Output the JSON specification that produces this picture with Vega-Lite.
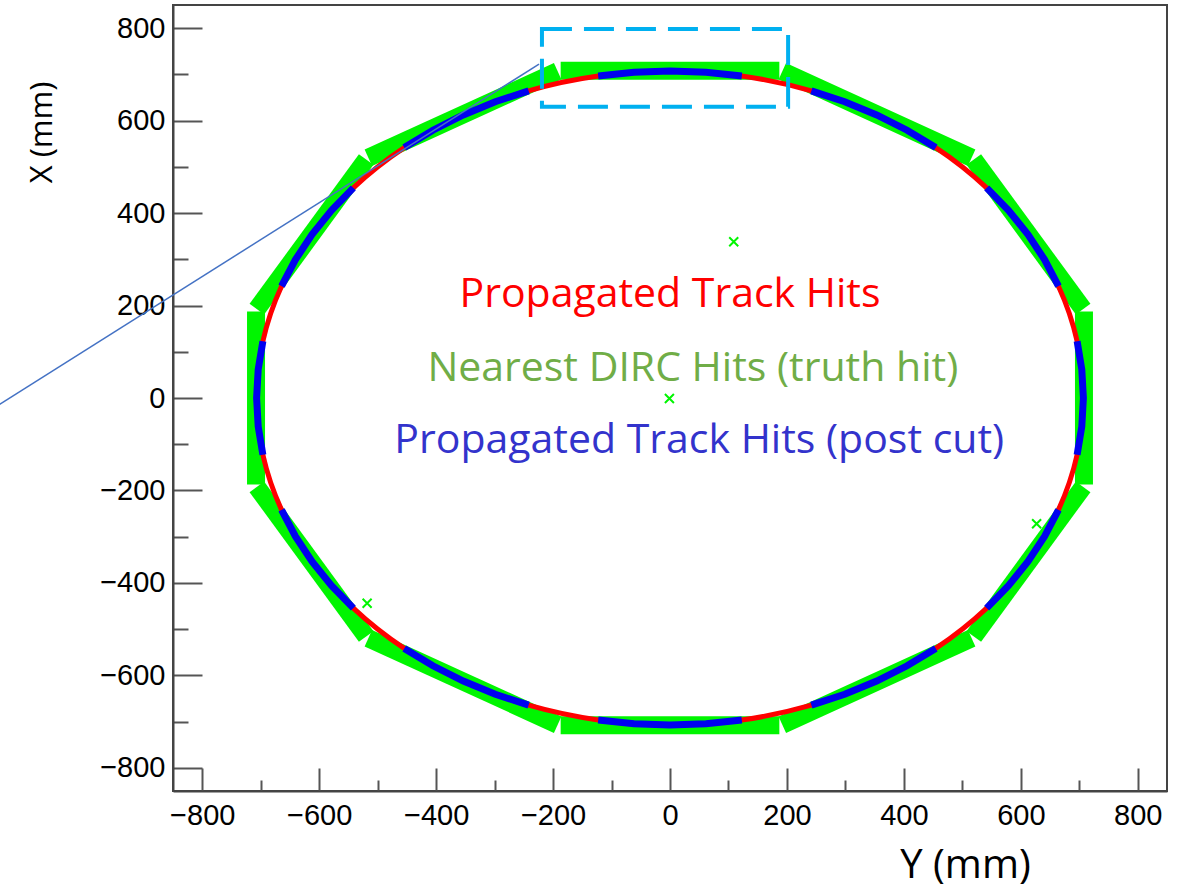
{
  "$schema": "https://vega.github.io/schema/vega-lite/v6.json",
  "width": 994,
  "height": 786,
  "autosize": "none",
  "padding": {"left": 173, "top": 5, "right": 12, "bottom": 103},
  "background": "white",
  "config": {
    "view": {"stroke": "#444", "strokeWidth": 2},
    "axis": {"grid": false, "labelFont": "Liberation Sans", "labelFontSize": 29, "labelColor": "black", "tickColor": "#555", "tickWidth": 2, "domainColor": "#444", "domainWidth": 2, "titleFont": "Open Sans", "titleFontWeight": "normal", "titleColor": "black", "labelFlush": false, "labelOverlap": false}
  },
  "datasets": {
    "green": [
      {"facet": 0, "end": 0, "ymm": 708, "xmm": -187}, {"facet": 0, "end": 1, "ymm": 708, "xmm": 187},
      {"facet": 30, "end": 0, "ymm": 706.6, "xmm": 192.1}, {"facet": 30, "end": 1, "ymm": 519.6, "xmm": 515.9},
      {"facet": 60, "end": 0, "ymm": 515.9, "xmm": 519.6}, {"facet": 60, "end": 1, "ymm": 192.1, "xmm": 706.6},
      {"facet": 90, "end": 0, "ymm": 187, "xmm": 708}, {"facet": 90, "end": 1, "ymm": -187, "xmm": 708},
      {"facet": 120, "end": 0, "ymm": -192.1, "xmm": 706.6}, {"facet": 120, "end": 1, "ymm": -515.9, "xmm": 519.6},
      {"facet": 150, "end": 0, "ymm": -519.6, "xmm": 515.9}, {"facet": 150, "end": 1, "ymm": -706.6, "xmm": 192.1},
      {"facet": 180, "end": 0, "ymm": -708, "xmm": 187}, {"facet": 180, "end": 1, "ymm": -708, "xmm": -187},
      {"facet": 210, "end": 0, "ymm": -706.6, "xmm": -192.1}, {"facet": 210, "end": 1, "ymm": -519.6, "xmm": -515.9},
      {"facet": 240, "end": 0, "ymm": -515.9, "xmm": -519.6}, {"facet": 240, "end": 1, "ymm": -192.1, "xmm": -706.6},
      {"facet": 270, "end": 0, "ymm": -187, "xmm": -708}, {"facet": 270, "end": 1, "ymm": 187, "xmm": -708},
      {"facet": 300, "end": 0, "ymm": 192.1, "xmm": -706.6}, {"facet": 300, "end": 1, "ymm": 515.9, "xmm": -519.6},
      {"facet": 330, "end": 0, "ymm": 519.6, "xmm": -515.9}, {"facet": 330, "end": 1, "ymm": 706.6, "xmm": -192.1}
    ],
    "circle": [
      {"a": 0, "ymm": 707, "xmm": 0}, {"a": 10, "ymm": 696.3, "xmm": 122.8}, {"a": 20, "ymm": 664.4, "xmm": 241.8},
      {"a": 30, "ymm": 612.3, "xmm": 353.5}, {"a": 40, "ymm": 541.6, "xmm": 454.5}, {"a": 50, "ymm": 454.5, "xmm": 541.6},
      {"a": 60, "ymm": 353.5, "xmm": 612.3}, {"a": 70, "ymm": 241.8, "xmm": 664.4}, {"a": 80, "ymm": 122.8, "xmm": 696.3},
      {"a": 90, "ymm": 0, "xmm": 707}, {"a": 100, "ymm": -122.8, "xmm": 696.3}, {"a": 110, "ymm": -241.8, "xmm": 664.4},
      {"a": 120, "ymm": -353.5, "xmm": 612.3}, {"a": 130, "ymm": -454.5, "xmm": 541.6}, {"a": 140, "ymm": -541.6, "xmm": 454.5},
      {"a": 150, "ymm": -612.3, "xmm": 353.5}, {"a": 160, "ymm": -664.4, "xmm": 241.8}, {"a": 170, "ymm": -696.3, "xmm": 122.8},
      {"a": 180, "ymm": -707, "xmm": 0}, {"a": 190, "ymm": -696.3, "xmm": -122.8}, {"a": 200, "ymm": -664.4, "xmm": -241.8},
      {"a": 210, "ymm": -612.3, "xmm": -353.5}, {"a": 220, "ymm": -541.6, "xmm": -454.5}, {"a": 230, "ymm": -454.5, "xmm": -541.6},
      {"a": 240, "ymm": -353.5, "xmm": -612.3}, {"a": 250, "ymm": -241.8, "xmm": -664.4}, {"a": 260, "ymm": -122.8, "xmm": -696.3},
      {"a": 270, "ymm": 0, "xmm": -707}, {"a": 280, "ymm": 122.8, "xmm": -696.3}, {"a": 290, "ymm": 241.8, "xmm": -664.4},
      {"a": 300, "ymm": 353.5, "xmm": -612.3}, {"a": 310, "ymm": 454.5, "xmm": -541.6}, {"a": 320, "ymm": 541.6, "xmm": -454.5},
      {"a": 330, "ymm": 612.3, "xmm": -353.5}, {"a": 340, "ymm": 664.4, "xmm": -241.8}, {"a": 350, "ymm": 696.3, "xmm": -122.8}
    ],
    "blue": [
      {"facet": 0, "a": -10, "ymm": 696.3, "xmm": -122.8}, {"facet": 0, "a": -5, "ymm": 704.3, "xmm": -61.6}, {"facet": 0, "a": 0, "ymm": 707, "xmm": 0}, {"facet": 0, "a": 5, "ymm": 704.3, "xmm": 61.6}, {"facet": 0, "a": 10, "ymm": 696.3, "xmm": 122.8},
      {"facet": 30, "a": 20, "ymm": 664.4, "xmm": 241.8}, {"facet": 30, "a": 25, "ymm": 640.8, "xmm": 298.8}, {"facet": 30, "a": 30, "ymm": 612.3, "xmm": 353.5}, {"facet": 30, "a": 35, "ymm": 579.2, "xmm": 405.5}, {"facet": 30, "a": 40, "ymm": 541.6, "xmm": 454.5},
      {"facet": 60, "a": 50, "ymm": 454.5, "xmm": 541.6}, {"facet": 60, "a": 55, "ymm": 405.5, "xmm": 579.2}, {"facet": 60, "a": 60, "ymm": 353.5, "xmm": 612.3}, {"facet": 60, "a": 65, "ymm": 298.8, "xmm": 640.8}, {"facet": 60, "a": 70, "ymm": 241.8, "xmm": 664.4},
      {"facet": 90, "a": 80, "ymm": 122.8, "xmm": 696.3}, {"facet": 90, "a": 85, "ymm": 61.6, "xmm": 704.3}, {"facet": 90, "a": 90, "ymm": 0, "xmm": 707}, {"facet": 90, "a": 95, "ymm": -61.6, "xmm": 704.3}, {"facet": 90, "a": 100, "ymm": -122.8, "xmm": 696.3},
      {"facet": 120, "a": 110, "ymm": -241.8, "xmm": 664.4}, {"facet": 120, "a": 115, "ymm": -298.8, "xmm": 640.8}, {"facet": 120, "a": 120, "ymm": -353.5, "xmm": 612.3}, {"facet": 120, "a": 125, "ymm": -405.5, "xmm": 579.2}, {"facet": 120, "a": 130, "ymm": -454.5, "xmm": 541.6},
      {"facet": 150, "a": 140, "ymm": -541.6, "xmm": 454.5}, {"facet": 150, "a": 145, "ymm": -579.2, "xmm": 405.5}, {"facet": 150, "a": 150, "ymm": -612.3, "xmm": 353.5}, {"facet": 150, "a": 155, "ymm": -640.8, "xmm": 298.8}, {"facet": 150, "a": 160, "ymm": -664.4, "xmm": 241.8},
      {"facet": 180, "a": 170, "ymm": -696.3, "xmm": 122.8}, {"facet": 180, "a": 175, "ymm": -704.3, "xmm": 61.6}, {"facet": 180, "a": 180, "ymm": -707, "xmm": 0}, {"facet": 180, "a": 185, "ymm": -704.3, "xmm": -61.6}, {"facet": 180, "a": 190, "ymm": -696.3, "xmm": -122.8},
      {"facet": 210, "a": 200, "ymm": -664.4, "xmm": -241.8}, {"facet": 210, "a": 205, "ymm": -640.8, "xmm": -298.8}, {"facet": 210, "a": 210, "ymm": -612.3, "xmm": -353.5}, {"facet": 210, "a": 215, "ymm": -579.2, "xmm": -405.5}, {"facet": 210, "a": 220, "ymm": -541.6, "xmm": -454.5},
      {"facet": 240, "a": 230, "ymm": -454.5, "xmm": -541.6}, {"facet": 240, "a": 235, "ymm": -405.5, "xmm": -579.2}, {"facet": 240, "a": 240, "ymm": -353.5, "xmm": -612.3}, {"facet": 240, "a": 245, "ymm": -298.8, "xmm": -640.8}, {"facet": 240, "a": 250, "ymm": -241.8, "xmm": -664.4},
      {"facet": 270, "a": 260, "ymm": -122.8, "xmm": -696.3}, {"facet": 270, "a": 265, "ymm": -61.6, "xmm": -704.3}, {"facet": 270, "a": 270, "ymm": 0, "xmm": -707}, {"facet": 270, "a": 275, "ymm": 61.6, "xmm": -704.3}, {"facet": 270, "a": 280, "ymm": 122.8, "xmm": -696.3},
      {"facet": 300, "a": 290, "ymm": 241.8, "xmm": -664.4}, {"facet": 300, "a": 295, "ymm": 298.8, "xmm": -640.8}, {"facet": 300, "a": 300, "ymm": 353.5, "xmm": -612.3}, {"facet": 300, "a": 305, "ymm": 405.5, "xmm": -579.2}, {"facet": 300, "a": 310, "ymm": 454.5, "xmm": -541.6},
      {"facet": 330, "a": 320, "ymm": 541.6, "xmm": -454.5}, {"facet": 330, "a": 325, "ymm": 579.2, "xmm": -405.5}, {"facet": 330, "a": 330, "ymm": 612.3, "xmm": -353.5}, {"facet": 330, "a": 335, "ymm": 640.8, "xmm": -298.8}, {"facet": 330, "a": 340, "ymm": 664.4, "xmm": -241.8}
    ],
    "markers": [
      {"ymm": 109, "xmm": 338}, {"ymm": -1, "xmm": -1}, {"ymm": -518, "xmm": -444}, {"ymm": 627, "xmm": -272}
    ],
    "labels": [
      {"text": "Propagated Track Hits", "color": "red", "ymm": 0, "xmm": 196},
      {"text": "Nearest DIRC Hits (truth hit)", "color": "green", "ymm": 39, "xmm": 36},
      {"text": "Propagated Track Hits (post cut)", "color": "blue", "ymm": 50, "xmm": -118}
    ],
    "box": [{"y1": -219, "y2": 202, "x1": 630, "x2": 798}],
    "pointer": [{"i": 0, "ymm": -1147, "xmm": -14}, {"i": 1, "ymm": -224, "xmm": 722}]
  },
  "layer": [
    {
      "data": {"name": "green"},
      "mark": {"type": "line", "color": "#00f500", "strokeWidth": 18, "strokeCap": "butt"},
      "encoding": {
        "x": {"field": "ymm", "type": "quantitative", "scale": {"domain": [-850, 850], "nice": false, "zero": false},
          "axis": {"values": [-800,-750,-700,-650,-600,-550,-500,-450,-400,-350,-300,-250,-200,-150,-100,-50,0,50,100,150,200,250,300,350,400,450,500,550,600,650,700,750,800],
            "format": "d", "labelExpr": "datum.value % 200 === 0 ? datum.label : ''",
            "tickSize": {"condition": {"test": "datum.value % 200 === 0", "value": -23}, "value": -11},
            "labelPadding": 33, "labelBaseline": "top",
            "title": "Y (mm)", "titleFontSize": 40, "titleX": 792, "titleY": 86, "titleAlign": "center", "titleBaseline": "alphabetic", "titleAnchor": null}},
        "y": {"field": "xmm", "type": "quantitative", "scale": {"domain": [-850, 850], "nice": false, "zero": false},
          "axis": {"values": [-800,-750,-700,-650,-600,-550,-500,-450,-400,-350,-300,-250,-200,-150,-100,-50,0,50,100,150,200,250,300,350,400,450,500,550,600,650,700,750,800],
            "format": "d", "labelExpr": "datum.value % 200 === 0 ? datum.label : ''",
            "tickSize": {"condition": {"test": "datum.value % 200 === 0", "value": -29}, "value": -15},
            "labelPadding": 37,
            "title": "X (mm)", "titleFontSize": 31, "titleAngle": -90, "titleX": -131, "titleY": 127, "titleAlign": "center", "titleBaseline": "middle", "titleAnchor": null}},
        "detail": {"field": "facet", "type": "nominal"},
        "order": {"field": "end", "type": "quantitative"}
      }
    },
    {
      "data": {"name": "circle"},
      "mark": {"type": "line", "color": "#ff0000", "strokeWidth": 5, "interpolate": "cardinal-closed"},
      "encoding": {
        "x": {"field": "ymm", "type": "quantitative"},
        "y": {"field": "xmm", "type": "quantitative"},
        "order": {"field": "a", "type": "quantitative"}
      }
    },
    {
      "data": {"name": "blue"},
      "mark": {"type": "line", "color": "#0000f0", "strokeWidth": 7, "strokeCap": "butt"},
      "encoding": {
        "x": {"field": "ymm", "type": "quantitative"},
        "y": {"field": "xmm", "type": "quantitative"},
        "detail": {"field": "facet", "type": "nominal"},
        "order": {"field": "a", "type": "quantitative"}
      }
    },
    {
      "data": {"name": "markers"},
      "mark": {"type": "point", "shape": "M-1,-1L1,1M-1,1L1,-1", "filled": false, "stroke": "#00f500", "strokeWidth": 2, "size": 81, "opacity": 1},
      "encoding": {
        "x": {"field": "ymm", "type": "quantitative"},
        "y": {"field": "xmm", "type": "quantitative"}
      }
    },
    {
      "data": {"name": "labels"},
      "mark": {"type": "text", "font": "Open Sans", "fontSize": 41, "align": "center", "baseline": "alphabetic"},
      "encoding": {
        "x": {"field": "ymm", "type": "quantitative"},
        "y": {"field": "xmm", "type": "quantitative"},
        "text": {"field": "text", "type": "nominal"},
        "color": {"field": "color", "type": "nominal", "scale": {"domain": ["red", "green", "blue"], "range": ["#ff0000", "#70ad47", "#3333cc"]}, "legend": null}
      }
    },
    {
      "data": {"name": "box"},
      "mark": {"type": "rect", "filled": false, "stroke": "#00b0f0", "strokeWidth": 4, "strokeDash": [30, 12]},
      "encoding": {
        "x": {"field": "y1", "type": "quantitative"},
        "x2": {"field": "y2"},
        "y": {"field": "x1", "type": "quantitative"},
        "y2": {"field": "x2"}
      }
    },
    {
      "data": {"name": "pointer"},
      "mark": {"type": "line", "color": "#4472c4", "strokeWidth": 1.5},
      "encoding": {
        "x": {"field": "ymm", "type": "quantitative"},
        "y": {"field": "xmm", "type": "quantitative"},
        "order": {"field": "i", "type": "quantitative"}
      }
    }
  ]
}
